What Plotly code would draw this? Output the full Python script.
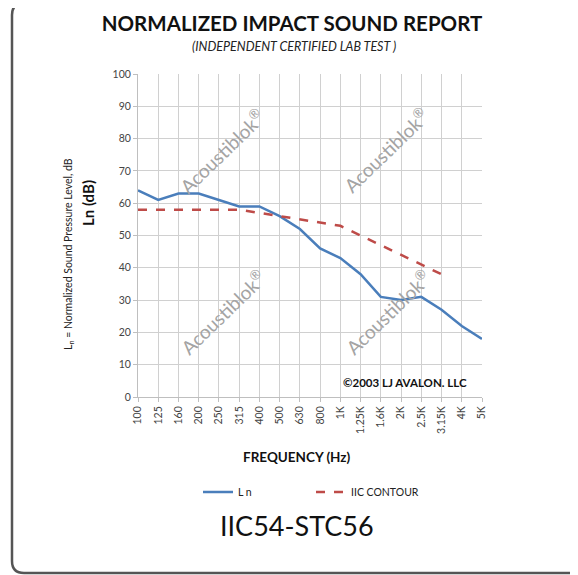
import plotly.graph_objects as go

freqs = ["100", "125", "160", "200", "250", "315", "400", "500", "630", "800",
         "1K", "1.25K", "1.6K", "2K", "2.5K", "3.15K", "4K", "5K"]
ln_values = [64, 61, 63, 63, 61, 59, 59, 56, 52, 46, 43, 38, 31, 30, 31, 27, 22, 18]
iic_freqs = freqs[:16]
iic_values = [58, 58, 58, 58, 58, 58, 57, 56, 55, 54, 53, 50, 47, 44, 41, 38]

FONT = "Lato"
W, H = 578, 575
OFF = 8  # page body margin offset
# target plot area in screenshot pixels: x 138..482, y 74..397
L, T = 138 - OFF, 74 - OFF
R, B = W - (482 - OFF), H - (397 - OFF)
PW, PH = W - L - R, H - T - B

def px(x):
    return (x - OFF - L) / PW

def py(y):
    return (H - B - (y - OFF)) / PH

fig = go.Figure()
fig.add_trace(go.Scatter(x=freqs, y=ln_values, mode="lines", name="L n", showlegend=True,
                         line=dict(color="#4a7ebb", width=2.5), legend="legend"))
fig.add_trace(go.Scatter(x=iic_freqs, y=iic_values, mode="lines", name="IIC CONTOUR", showlegend=True,
                         line=dict(color="#be4b48", width=2.5, dash="dash"), legend="legend2"))

def ann(x, y, text, size, color="#111", angle=0, family=FONT):
    return dict(x=px(x), y=py(y), xref="paper", yref="paper", text=text, showarrow=False,
                xanchor="center", yanchor="middle", textangle=angle,
                font=dict(family=family, size=size, color=color))

annotations = [
    ann(294, 47, "<i>(INDEPENDENT CERTIFIED LAB TEST )</i>", 12.5, "#222"),
    ann(88, 203, "<b>Ln (dB)</b>", 15, angle=-90),
    ann(69, 254, "L<sub>n</sub> = Normalized Sound Pressure Level, dB", 10.5, "#222", angle=-90),
    ann(297, 457, "<b>FREQUENCY (Hz)</b>", 13.5),
    ann(405, 382, "<b>©2003 LJ AVALON. LLC</b>", 11.5),
    ann(297, 525, "IIC54-STC56", 27),
]
for (wx, wy) in [(221, 151), (385, 150), (222, 312), (387, 312)]:
    annotations.append(ann(wx, wy, "Acoustiblok<sup>®</sup>", 19, "#a4a4a4", angle=-44))

# rounded border (right side runs off the image)
x0, x1 = px(12), px(640)
yt, yb = py(3), py(573)
rx, ry = 12 / PW, 12 / PH
path = (f"M {x1},{yt} L {x0+rx},{yt} Q {x0},{yt} {x0},{yt-ry} "
        f"L {x0},{yb+ry} Q {x0},{yb} {x0+rx},{yb} L {x1},{yb}")

fig.update_layout(
    width=W, height=H,
    margin=dict(l=L, r=R, t=T, b=B, autoexpand=False),
    showlegend=True,
    paper_bgcolor="white", plot_bgcolor="white",
    title=dict(text="<b>NORMALIZED IMPACT SOUND REPORT</b>", x=px(292), xref="paper",
               xanchor="center", y=1 - (24 - OFF) / H, yanchor="middle",
               font=dict(family=FONT, size=20.5, color="#111")),
    xaxis=dict(type="category", range=[0, len(freqs) - 1], showgrid=True,
               gridcolor="#d0d0d0", gridwidth=1, tickangle=-90,
               ticks="outside", ticklen=4, tickcolor="#bfbfbf",
               showline=True, linecolor="#bfbfbf", linewidth=1,
               tickfont=dict(family=FONT, size=10.5, color="#444"), zeroline=False),
    yaxis=dict(range=[0, 100], dtick=10, showgrid=True, gridcolor="#d0d0d0", gridwidth=1,
               ticks="outside", ticklen=4, tickcolor="#bfbfbf",
               showline=True, linecolor="#bfbfbf", linewidth=1,
               tickfont=dict(family=FONT, size=10.5, color="#444"), zeroline=False),
    legend=dict(orientation="h", x=px(198), xanchor="left", y=py(492), yanchor="middle",
                visible=True, font=dict(family=FONT, size=10.5, color="#222"),
                bgcolor="rgba(0,0,0,0)"),
    legend2=dict(orientation="h", x=px(311), xanchor="left", y=py(492), yanchor="middle",
                 visible=True, font=dict(family=FONT, size=10.5, color="#222"),
                 bgcolor="rgba(0,0,0,0)"),
    annotations=annotations,
    shapes=[dict(type="path", path=path, xref="paper", yref="paper",
                 line=dict(color="#555555", width=2.5))],
)

fig.write_html("out.html")
